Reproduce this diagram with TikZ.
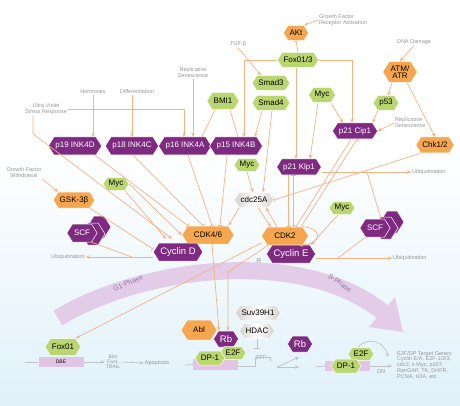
\documentclass[tikz,border=0pt]{standalone}
\usepackage{fontspec}
\setmainfont{Liberation Sans}
\usepackage{tikz}
\usetikzlibrary{shapes.symbols}
\usetikzlibrary{arrows.meta}
\definecolor{hexpurple}{RGB}{126,42,128}
\definecolor{hexorange}{RGB}{246,166,78}
\definecolor{hexgreen}{RGB}{186,214,112}
\definecolor{hexwhite}{RGB}{214,210,204}
\definecolor{linkorange}{RGB}{246,178,130}
\definecolor{labelgray}{RGB}{150,150,150}
\definecolor{promgray}{RGB}{190,196,202}
\definecolor{boxpink}{RGB}{226,196,228}
\definecolor{bandpurple}{RGB}{226,204,232}
\definecolor{phasetext}{RGB}{150,120,160}
\definecolor{skyblue}{RGB}{224,241,250}

\begin{document}
\begin{tikzpicture}[x=1pt,y=-1pt,
    hex/.style={shape=signal, signal to=east and west, signal pointer angle=116, minimum height=15pt, inner xsep=1.5pt, inner ysep=0pt, draw=white, line width=.5pt, font=\fontsize{8}{9}\selectfont},
    hexp/.style={hex, fill=hexpurple, text=white},
    hexo/.style={hex, fill=hexorange},
    hexg/.style={hex, fill=hexgreen},
    hexw/.style={hex, left color=hexwhite, right color=hexwhite, middle color=white},
    big/.style={font=\fontsize{9.5}{10}\selectfont, minimum height=18pt},
    ink/.style={hexp, minimum height=18pt},
    lbl/.style={text=labelgray, font=\fontsize{5.5}{6}\selectfont, align=center, inner sep=1pt},
    dna/.style={fill=boxpink, minimum width=45pt, minimum height=10pt, inner sep=0pt, font=\fontsize{5}{6}\selectfont},
    link/.style={draw=linkorange, line width=.7pt},
    act/.style={link, -{Stealth[length=4pt,width=3.5pt]}},
    inh/.style={link, -{Bar[width=5pt]}},
    gline/.style={draw=promgray, line width=.7pt},
    gact/.style={gline, -{Stealth[length=4pt,width=3.5pt]}},
    ginh/.style={gline, -{Bar[width=6pt]}}]
  \useasboundingbox (0,0) rectangle (460,406);
  \fill[white] (0,0) rectangle (460,150);
  \fill[top color=white, bottom color=skyblue] (0,150) rectangle (460,406);

  \draw[bandpurple, line width=17pt] (58,318) .. controls (140,268) and (300,245) .. (384,313);
  \fill[bandpurple] (369,327) -- (395,297) -- (403,332) -- cycle;
  \node[text=phasetext, font=\fontsize{7}{8}\selectfont, rotate=22] (tG1) at (128,283) {G1-Phase};
  \node[text=phasetext, font=\fontsize{7}{8}\selectfont, rotate=-36] (tS) at (340,283) {S-Phase};
  \node[lbl, font=\fontsize{7}{8}\selectfont] (tR) at (259,261) {R};

  \node[lbl, anchor=west, align=left] (tGFR) at (318,20) {Growth Factor\\Receptor Activation};
  \node[lbl] (tTGF) at (238,44) {TGF-β};
  \node[lbl] (tDNA) at (414,42) {DNA Damage};
  \node[lbl, anchor=west, align=left] (tRepR) at (394,123) {Replicative\\Senescence};
  \node[lbl] (tRepL) at (193,73) {Replicative\\Senescence};
  \node[lbl] (tUV) at (46,109) {Ultra Violet\\Stress Response};
  \node[lbl] (tHorm) at (93,92) {Hormones};
  \node[lbl] (tDiff) at (137,92) {Differentiation};
  \node[lbl] (tGFW) at (24,173) {Growth Factor\\Withdrawal};
  \node[lbl, anchor=east] (tUbL) at (86,257) {Ubiquitination};
  \node[lbl, anchor=west] (tUbR1) at (411,172) {Ubiquitination};
  \node[lbl, anchor=west] (tUbR2) at (392,258) {Ubiquitination};

  \node[hexo] (akt) at (296,33) {AKt};
  \node[hexg] (foxo3) at (298,60) {Fox01/3};
  \node[hexg] (smad3) at (271,83) {Smad3};
  \node[hexg] (smad4) at (271,103) {Smad4};
  \node[hexg] (mycA) at (322,95) {Myc};
  \node[hexo, align=center, minimum height=21pt, font=\fontsize{8}{7.5}\selectfont] (atm) at (400,72) {ATM/\\ATR};
  \node[hexg] (p53) at (386,103) {p53};
  \node[hexp, minimum height=16pt] (p21cip) at (355,131) {p21 Cip1};
  \node[hexo, minimum height=16pt] (chk) at (435,145) {Chk1/2};
  \node[hexp, minimum height=16pt] (p21kip) at (299,167) {p21 Klp1};
  \node[hexg, minimum height=13pt] (mycB) at (247,165) {Myc};
  \node[hexw] (cdc25a) at (254,200) {cdc25A};
  \node[hexg, minimum height=13pt] (mycC) at (342,208) {Myc};

  \node[hexp, minimum width=24pt, minimum height=22pt] (scfRb1) at (392,222) {};
  \node[hexp, minimum width=24pt, minimum height=22pt] (scfRb2) at (386,228) {};
  \node[hexp, minimum height=18pt] (scfR) at (375,228) {SCF};
  \node[hexo, minimum height=18pt, minimum width=47pt] (cdk2) at (285,236) {CDK2};
  \node[hexp, big] (cycE) at (291,254) {Cyclin E};

  \node[hexg, minimum height=17pt] (bmi1) at (223,101) {BMI1};
  \node[ink] (p19) at (75,146) {p19 INK4D};
  \node[ink] (p18) at (132,146) {p18 INK4C};
  \node[ink] (p16) at (185,146) {p16 INK4A};
  \node[ink] (p15) at (236,146) {p15 INK4B};
  \node[hexg, minimum height=13pt] (mycD) at (116,184) {Myc};
  \node[hexo, minimum height=16pt] (gsk) at (74,200) {GSK-3β};
  \node[hexp, minimum width=24pt, minimum height=22pt] (scfLb1) at (99,227) {};
  \node[hexp, minimum width=24pt, minimum height=22pt] (scfLb2) at (93,234) {};
  \node[hexp, minimum height=18pt] (scfL) at (82,233) {SCF};
  \node[hexo, minimum height=18pt, minimum width=52pt] (cdk46) at (208,235) {CDK4/6};
  \node[hexp, big] (cycD) at (178,252) {Cyclin D};

  \node[hexg, minimum height=17pt] (fox1) at (63,347) {Fox01};
  \node[dna] (dbe) at (61,362) {DBE};
  \node[lbl, font=\fontsize{5}{5}\selectfont] (tBim) at (113,362) {Bim\\FasL\\TRAIL};
  \node[lbl] (tApo) at (157,363) {Apoptosis};

  \node[dna, minimum height=11pt] (boxA) at (215.5,364.5) {};
  \node[hexw] (suv) at (258,313) {Suv39H1};
  \node[hexw] (hdac) at (257,331) {HDAC};
  \node[hexo, minimum height=20pt, minimum width=36pt] (abl) at (199,330) {Abl};
  \node[hexp, big, minimum height=16pt] (rbA) at (226,339) {Rb};
  \node[hexg, minimum height=13pt] (e2fA) at (233,353) {E2F};
  \node[hexg, minimum height=14pt] (dp1A) at (210,358) {DP-1};
  \node[lbl] (tOff) at (261,358) {OFF};

  \node[hexp, big, minimum height=16pt] (rbB) at (300,344) {Rb};
  \node[dna] (boxB) at (347.5,366) {};
  \node[hexg, minimum height=13pt] (e2fB) at (361,354) {E2F};
  \node[hexg, minimum height=14pt] (dp1B) at (346,366) {DP-1};
  \node[lbl] (tOn) at (381,372) {ON};
  \node[lbl, anchor=north west, align=left, font=\fontsize{5.5}{5.8}\selectfont] (tGenes) at (396,350) {E2F/DP Target Genes:\\Cyclin E/A, E2F-1/2/3,\\cdc2, c-Myc, p107,\\RanGAP, TK, DHFR,\\PCNA, H2A, etc.};

  \coordinate (ubL) at (132,257);
  \coordinate (ubR1) at (367,172);
  \coordinate (ubR2) at (338,258);
  \coordinate (fork) at (277,367);

  \draw[act] (tGFR.west) -- (akt.north east);
  \draw[inh] (foxo3.north) -- (akt.south);
  \draw[act] (foxo3.west) -| ([xshift=8pt]p15.north);
  \draw[act] (foxo3.east) -| ([xshift=-3pt]p21cip.north);
  \draw[act] ([xshift=-2pt]foxo3.south) -- ([xshift=-3pt]p21kip.north);
  \draw[act] (tTGF.south) -- ([xshift=-10pt]smad3.north);
  \draw[act] ([xshift=-9pt]smad4.south) -- ([xshift=19pt]p15.north);
  \draw[act] ([xshift=1pt]smad4.south) -- ([xshift=9pt]cdc25a.north);
  \draw[act] (mycA.south east) -- ([xshift=-12pt]p21cip.north);
  \draw[act] ([xshift=-4pt]mycA.south) -- ([xshift=11pt]p21kip.north);
  \draw[act] (tDNA.south) -- (atm.north);
  \draw[act] ([xshift=-8pt]atm.south) -- ([xshift=2pt]p53.north);
  \draw[act] ([xshift=7pt]atm.south) -- (chk.north);
  \draw[act] (p53.south west) -- (p21cip.north east);
  \draw[act] (tRepR.west) -- (p21cip.east);
  \draw[inh] ([xshift=-4pt]p21cip.south) -- ([xshift=11pt]cdk2.north);
  \draw[inh] ([xshift=16pt]cdk2.north) -- ([xshift=2pt]p21cip.south);
  \draw[inh] ([xshift=-11pt]p21kip.south) -- ([xshift=3pt]cdk2.north);
  \draw[inh] ([xshift=8pt]cdk2.north) -- ([xshift=-6pt]p21kip.south);
  \draw[inh] (chk.south west) -- (cdc25a.east);
  \draw[act] ([yshift=-5pt]p21kip.east) -- (tUbR1.west);
  \draw[link] ([xshift=6pt]scfR.north) -- (ubR1);
  \draw[act] ([yshift=-4pt]cycE.east) -- (tUbR2.west);
  \draw[link] (scfR.south west) -- (ubR2);
  \draw[act] ([xshift=-4pt]mycC.south) -- ([xshift=20pt]cycE.north);
  \draw[act] (cdk2.north east) .. controls (323,228) and (323,244) .. ([xshift=-4pt]cdk2.south east);
  \draw[act] ([xshift=4pt]cdc25a.south) -- ([xshift=-14pt]cdk2.north);
  \draw[act] ([xshift=-8pt]cdk2.north) -- ([xshift=12pt]cdc25a.south);
  \draw[act] (cdc25a.south west) -- (cdk46.north east);
  \draw[act] (mycB.south) -- ([xshift=-1pt]cdc25a.north);

  \draw[link] ([xshift=-8pt]bmi1.south) -- ([xshift=17pt]p16.north);
  \draw[link] ([xshift=7pt]bmi1.south) -- ([xshift=2pt]p15.north);
  \draw[act] (tHorm.south) -- ([xshift=18pt]p19.north);
  \draw[act] (tDiff.south -| p18.north) -- (p18.north);
  \draw[act] (tRepL.south) -- (tRepL.south |- p16.north);
  \draw[act] (tUV.east) -| ([xshift=-1pt]p16.north);
  \draw[act] ([xshift=-13pt]tUV.south) -- ++(0,18) -- ([xshift=-6pt,yshift=4pt]cycD.north);
  \draw[act] (mycD.east) -- (cdk46.west);
  \draw[act] (mycD.south east) -- ([xshift=-12pt,yshift=4pt]cycD.north);
  \draw[inh] ([xshift=20pt]p19.south) -- ([xshift=-20pt]cdk46.north);
  \draw[inh] ([xshift=1pt]p18.south) -- ([xshift=-5pt]cdk46.north);
  \draw[inh] ([xshift=3pt]p16.south) -- ([xshift=4pt]cdk46.north);
  \draw[inh] ([xshift=-9pt]p15.south) -- ([xshift=12pt]cdk46.north);
  \draw[act] (tGFW.south east) -- (gsk.north west);
  \draw[inh] (gsk.south east) -- ([yshift=3pt]cycD.west);
  \draw[act] ([yshift=-5pt]cycD.west) -- (tUbL.east);
  \draw[link] (scfL.south east) -- (ubL);
  \draw[act] ([xshift=4pt]cdk46.south) -- ([xshift=-7pt]rbA.north);
  \draw[act] ([xshift=-17pt]cdk2.south) -- ([xshift=2pt]rbA.north |- 0,272) -- ([xshift=2pt]rbA.north);
  \draw[act] ([yshift=-7pt]cdk2.west) -- (fox1.north east);

  \draw[gline] (25,362) -- (dbe.west);
  \draw[gact] (dbe.east) -- (tBim.west);
  \draw[gact] (tBim.east) -- (tApo.west);
  \draw[gline] (185,365) -- (boxA.west);
  \draw[ginh] (hdac.south) -- (hdac.south |- 0,349);
  \draw[gline] ([yshift=-2pt]boxA.east) -| (255,357) -- (270,357) -- (270,361);
  \draw[gact] (fork) -- (299,357);
  \draw[gact] (fork) -- (299,367);
  \draw[gline] (315,367) -- (boxB.west);
  \draw[gact] ([xshift=-3pt]e2fB.north) .. controls (366,337) and (384,340) .. (388,357);
  \draw[gact] (boxB.east) -- (392,366);
\end{tikzpicture}
\end{document}
